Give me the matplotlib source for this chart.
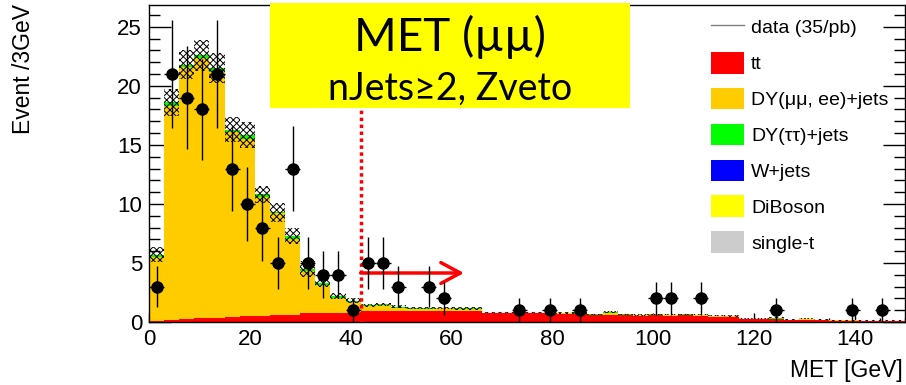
import numpy as np
import matplotlib
matplotlib.use('Agg')
import matplotlib.pyplot as plt
from matplotlib.patches import Patch, Rectangle
from matplotlib.lines import Line2D
from matplotlib.ticker import MultipleLocator

plt.rcParams['font.family'] = ['Liberation Sans', 'DejaVu Sans']
plt.rcParams['hatch.linewidth'] = 0.7

# 3 GeV bins from 0 to 150
edges = np.arange(0, 151, 3)

# data points (bin centre, count)
data_x = [1.5, 4.5, 7.5, 10.5, 13.5, 16.5, 19.5, 22.5, 25.5, 28.5, 31.5, 34.5, 37.5,
          40.5, 43.5, 46.5, 49.5, 55.5, 58.5, 73.5, 79.5, 85.5, 100.5, 103.5, 109.5,
          124.5, 139.5, 145.5]
data_y = [3, 21, 19, 18, 21, 13, 10, 8, 5, 13, 5, 4, 4,
          1, 5, 5, 3, 3, 2, 1, 1, 1, 2, 2, 2,
          1, 1, 1]

# MC stack, one value per bin (50 bins)
tt = [0.05, 0.15, 0.25, 0.3, 0.35, 0.45, 0.5, 0.5, 0.6, 0.6, 0.8, 0.8, 0.75, 0.8,
      0.95, 0.95, 0.95, 0.95, 0.95, 0.95, 0.95, 0.95,
      0.73, 0.73, 0.73, 0.73, 0.73, 0.65, 0.65, 0.6, 0.6,
      0.6, 0.55, 0.6, 0.55, 0.6, 0.55, 0.45, 0.45, 0.25, 0.25, 0.25,
      0.17, 0.17, 0.15, 0.12, 0.12, 0.1, 0.1, 0.08]
dy_mumu_ee = [5.45, 18.15, 21.35, 22.1, 20.85, 15.65, 15.0, 10.1, 8.6, 6.4, 3.5, 2.3, 1.25, 0.9,
              0.4, 0.45, 0.2, 0.15, 0.15, 0.2, 0.15, 0.15,
              0.05, 0.05, 0.05, 0.05, 0.05, 0.08, 0.02, 0.03, 0.2,
              0.03, 0.03, 0.03, 0.05, 0.03, 0.05, 0.03, 0.03, 0.03, 0.03, 0.02,
              0.02, 0.05, 0.03, 0.02, 0.02, 0.01, 0.01, 0.01]
dy_tautau = [0.2, 0.3, 0.2, 0.2, 0.3, 0.2, 0.3, 0.2, 0.1, 0.3, 0.2, 0.2, 0.2, 0.1,
             0.05, 0.1, 0.15, 0.1, 0.1, 0.05, 0.05, 0.05,
             0.02, 0.02, 0.02, 0.02, 0.02, 0.02, 0.08, 0.02, 0.02,
             0.01, 0.01, 0.01, 0.01, 0.01, 0.01, 0.01, 0.01, 0.01, 0.01, 0.08,
             0.01, 0.01, 0.01, 0.01, 0.01, 0.01, 0.01, 0.01]
wjets = [0.0] * 50
diboson = [0.0] * 36 + [0.02, 0.03, 0.02, 0.0, 0.0, 0.0, 0.0, 0.06, 0.02, 0.0, 0.0, 0.0, 0.0, 0.0]
single_t = [0.0] * 50
mc_err = [0.65, 1.15, 1.25, 1.3, 1.25, 1.05, 1.1, 0.75, 0.8, 0.7, 0.65, 0.3, 0.25, 0.2,
          0.12, 0.12, 0.1, 0.1, 0.1, 0.1, 0.1, 0.1,
          0.06, 0.06, 0.06, 0.06, 0.06, 0.06, 0.06, 0.06, 0.08,
          0.05, 0.05, 0.05, 0.05, 0.05, 0.05, 0.05, 0.05, 0.04, 0.04, 0.04,
          0.04, 0.04, 0.03, 0.03, 0.03, 0.03, 0.03, 0.03]

met_cut = 42
arrow_end = 62.5
arrow_y = 4.15

fig = plt.figure(figsize=(9.06, 3.85), dpi=100)
ax = fig.add_axes([149/906, 63/385, 756/906, 317/385])

components = [
    (tt, '#ff0000', 'tt'),
    (dy_mumu_ee, '#ffcc00', 'DY(\u03bc\u03bc, ee)+jets'),
    (dy_tautau, '#00ff00', 'DY(\u03c4\u03c4)+jets'),
    (wjets, '#0000ff', 'W+jets'),
    (diboson, '#ffff00', 'DiBoson'),
    (single_t, '#cccccc', 'single-t'),
]
base = np.zeros(len(edges) - 1)
for vals, col, lab in components:
    top = base + np.array(vals)
    ax.stairs(top, edges, baseline=base, fill=True, color=col, lw=0, zorder=1)
    base = top
total = base
err = np.array(mc_err)
ax.stairs(total + err, edges, baseline=total - err, fill=True, facecolor='none',
          edgecolor='black', hatch='xxxxx', lw=0, zorder=2)

# data with poisson errors
ax.errorbar(data_x, data_y, yerr=np.sqrt(data_y), xerr=1.5, fmt='o', color='black',
            ms=8, elinewidth=1, capsize=0, zorder=5)

# cut line + arrow
ax.axvline(met_cut, color='red', lw=2.5, ls=(0, (1, 1)), zorder=4)
ax.annotate('', xy=(arrow_end, arrow_y), xytext=(met_cut, arrow_y),
            arrowprops=dict(arrowstyle='->,head_length=14,head_width=7.5', lw=2.5,
                            color='red', mutation_scale=1, shrinkA=0, shrinkB=0),
            zorder=4)

ax.set_xlim(0, 150)
ax.set_ylim(0, 26.85)
ax.xaxis.set_major_locator(MultipleLocator(20))
ax.xaxis.set_minor_locator(MultipleLocator(5))
ax.yaxis.set_major_locator(MultipleLocator(5))
ax.yaxis.set_minor_locator(MultipleLocator(1))
ax.set_axisbelow(True)
ax.tick_params(axis='x', which='major', direction='in', length=6.5, width=1, labelsize=16, pad=5, top=False)
ax.tick_params(axis='x', which='minor', direction='in', length=3.2, width=1, top=False)
ax.tick_params(axis='y', which='major', direction='in', length=15.8, width=1, labelsize=16, pad=5, right=True)
ax.tick_params(axis='y', which='minor', direction='in', length=7.9, width=1, right=True)
for s in ax.spines.values():
    s.set_linewidth(1)

fig.text(24/906, 1 - 4/385, 'Event /3GeV', rotation=90, ha='center', va='top', fontsize=16.5)
fig.text(903/906, 1 - 370/385, 'MET [GeV]', ha='right', va='center', fontsize=16.5)

# legend
handles = [Line2D([], [], color='gray', lw=1)]
labels = ['data (35/pb)']
for vals, col, lab in components:
    handles.append(Patch(facecolor=col, edgecolor='none'))
    labels.append(lab)
fig.legend(handles, labels, loc='upper left', bbox_to_anchor=(711/906, 1 - 16/385),
           frameon=False, fontsize=14, handlelength=1.7, handleheight=1.34,
           labelspacing=0.73, handletextpad=0.36, borderpad=0, borderaxespad=0)

# title box
fig.patches.append(Rectangle((270/906, 1 - 108/385), 360/906, 105/385,
                             transform=fig.transFigure, facecolor='#ffff00',
                             edgecolor='none', zorder=3))
fig.text(450/906, 1 - 37/385, 'MET (\u00b5\u00b5)', ha='center', va='center',
         fontsize=33, family=['Lato', 'DejaVu Sans'], zorder=4)
fig.text(450/906, 1 - 89/385, 'nJets\u22652, Zveto', ha='center', va='center',
         fontsize=27, family=['Lato', 'DejaVu Sans'], zorder=4)

fig.savefig('out.png', dpi=100)
